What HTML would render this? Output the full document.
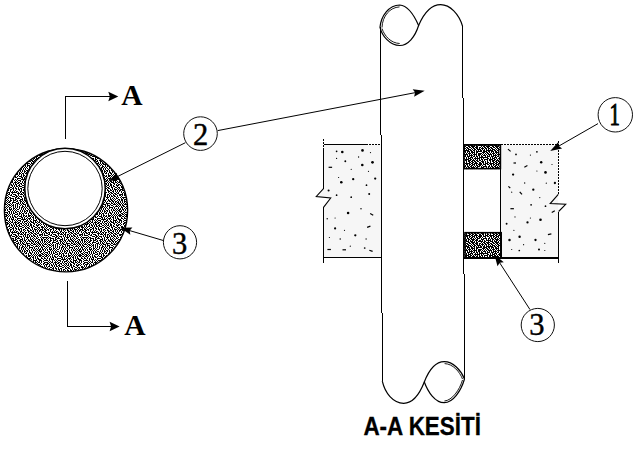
<!DOCTYPE html>
<html><head><meta charset="utf-8"><style>
html,body{margin:0;padding:0;background:#fff;}
body{width:640px;height:451px;overflow:hidden;font-family:"Liberation Sans",sans-serif;}
svg{display:block;}
</style></head><body>
<svg width="640" height="451" viewBox="0 0 640 451">
<defs>
<pattern id="d" width="40" height="40" patternUnits="userSpaceOnUse"><path d="M1 0h2v1h-2zM4 0h1v1h-1zM6 0h1v1h-1zM8 0h1v1h-1zM10 0h2v1h-2zM13 0h3v1h-3zM17 0h1v1h-1zM19 0h2v1h-2zM22 0h1v1h-1zM24 0h2v1h-2zM28 0h2v1h-2zM31 0h2v1h-2zM34 0h1v1h-1zM37 0h1v1h-1zM39 0h1v1h-1zM0 1h1v1h-1zM2 1h1v1h-1zM4 1h2v1h-2zM7 1h1v1h-1zM9 1h2v1h-2zM13 1h1v1h-1zM16 1h2v1h-2zM20 1h2v1h-2zM23 1h1v1h-1zM25 1h1v1h-1zM27 1h1v1h-1zM29 1h2v1h-2zM32 1h2v1h-2zM35 1h2v1h-2zM38 1h1v1h-1zM0 2h1v1h-1zM2 2h1v1h-1zM4 2h1v1h-1zM6 2h1v1h-1zM8 2h2v1h-2zM12 2h4v1h-4zM18 2h1v1h-1zM20 2h1v1h-1zM22 2h1v1h-1zM24 2h1v1h-1zM26 2h1v1h-1zM31 2h1v1h-1zM33 2h1v1h-1zM35 2h1v1h-1zM37 2h2v1h-2zM1 3h1v1h-1zM3 3h1v1h-1zM5 3h1v1h-1zM7 3h1v1h-1zM10 3h1v1h-1zM12 3h1v1h-1zM16 3h3v1h-3zM20 3h1v1h-1zM22 3h2v1h-2zM26 3h4v1h-4zM31 3h2v1h-2zM34 3h1v1h-1zM36 3h1v1h-1zM38 3h2v1h-2zM0 4h1v1h-1zM2 4h1v1h-1zM4 4h3v1h-3zM8 4h2v1h-2zM11 4h1v1h-1zM13 4h1v1h-1zM15 4h1v1h-1zM17 4h1v1h-1zM19 4h1v1h-1zM21 4h1v1h-1zM23 4h3v1h-3zM27 4h1v1h-1zM30 4h1v1h-1zM33 4h3v1h-3zM37 4h1v1h-1zM39 4h1v1h-1zM0 5h1v1h-1zM2 5h2v1h-2zM7 5h1v1h-1zM9 5h2v1h-2zM12 5h2v1h-2zM15 5h1v1h-1zM17 5h1v1h-1zM20 5h1v1h-1zM22 5h1v1h-1zM25 5h1v1h-1zM27 5h3v1h-3zM31 5h2v1h-2zM36 5h1v1h-1zM38 5h1v1h-1zM1 6h1v1h-1zM3 6h2v1h-2zM6 6h1v1h-1zM8 6h1v1h-1zM11 6h1v1h-1zM13 6h1v1h-1zM15 6h1v1h-1zM17 6h1v1h-1zM19 6h1v1h-1zM22 6h2v1h-2zM25 6h1v1h-1zM27 6h1v1h-1zM29 6h1v1h-1zM33 6h1v1h-1zM35 6h3v1h-3zM39 6h1v1h-1zM1 7h2v1h-2zM5 7h1v1h-1zM7 7h1v1h-1zM9 7h2v1h-2zM13 7h1v1h-1zM15 7h1v1h-1zM17 7h1v1h-1zM19 7h1v1h-1zM21 7h2v1h-2zM24 7h1v1h-1zM26 7h1v1h-1zM29 7h4v1h-4zM34 7h1v1h-1zM38 7h1v1h-1zM0 8h1v1h-1zM2 8h1v1h-1zM4 8h1v1h-1zM6 8h1v1h-1zM9 8h1v1h-1zM11 8h1v1h-1zM13 8h2v1h-2zM16 8h1v1h-1zM19 8h1v1h-1zM21 8h1v1h-1zM23 8h1v1h-1zM25 8h1v1h-1zM27 8h1v1h-1zM29 8h1v1h-1zM32 8h1v1h-1zM34 8h1v1h-1zM36 8h1v1h-1zM38 8h1v1h-1zM0 9h1v1h-1zM2 9h2v1h-2zM5 9h1v1h-1zM7 9h1v1h-1zM9 9h3v1h-3zM13 9h1v1h-1zM15 9h1v1h-1zM17 9h2v1h-2zM21 9h1v1h-1zM23 9h1v1h-1zM25 9h1v1h-1zM28 9h1v1h-1zM31 9h1v1h-1zM33 9h1v1h-1zM35 9h1v1h-1zM37 9h1v1h-1zM39 9h1v1h-1zM1 10h1v1h-1zM3 10h1v1h-1zM5 10h1v1h-1zM7 10h1v1h-1zM10 10h1v1h-1zM12 10h1v1h-1zM14 10h1v1h-1zM16 10h1v1h-1zM20 10h1v1h-1zM22 10h1v1h-1zM24 10h1v1h-1zM26 10h2v1h-2zM29 10h1v1h-1zM31 10h1v1h-1zM33 10h2v1h-2zM36 10h1v1h-1zM38 10h2v1h-2zM0 11h2v1h-2zM4 11h1v1h-1zM8 11h2v1h-2zM11 11h1v1h-1zM13 11h1v1h-1zM15 11h1v1h-1zM17 11h2v1h-2zM20 11h1v1h-1zM22 11h1v1h-1zM24 11h2v1h-2zM27 11h1v1h-1zM29 11h1v1h-1zM32 11h1v1h-1zM35 11h1v1h-1zM37 11h1v1h-1zM39 11h1v1h-1zM0 12h1v1h-1zM3 12h1v1h-1zM5 12h3v1h-3zM9 12h1v1h-1zM11 12h1v1h-1zM13 12h1v1h-1zM15 12h2v1h-2zM19 12h1v1h-1zM21 12h1v1h-1zM24 12h1v1h-1zM26 12h1v1h-1zM29 12h2v1h-2zM32 12h1v1h-1zM34 12h1v1h-1zM36 12h1v1h-1zM38 12h1v1h-1zM1 13h2v1h-2zM4 13h1v1h-1zM7 13h1v1h-1zM9 13h1v1h-1zM11 13h1v1h-1zM13 13h2v1h-2zM17 13h1v1h-1zM19 13h2v1h-2zM22 13h2v1h-2zM25 13h2v1h-2zM28 13h1v1h-1zM30 13h2v1h-2zM34 13h1v1h-1zM36 13h1v1h-1zM38 13h1v1h-1zM0 14h1v1h-1zM2 14h2v1h-2zM5 14h2v1h-2zM8 14h1v1h-1zM10 14h1v1h-1zM12 14h1v1h-1zM15 14h3v1h-3zM19 14h1v1h-1zM21 14h1v1h-1zM23 14h1v1h-1zM28 14h1v1h-1zM31 14h1v1h-1zM33 14h1v1h-1zM35 14h1v1h-1zM37 14h1v1h-1zM39 14h1v1h-1zM0 15h2v1h-2zM4 15h1v1h-1zM6 15h2v1h-2zM9 15h1v1h-1zM12 15h1v1h-1zM14 15h1v1h-1zM18 15h1v1h-1zM21 15h1v1h-1zM23 15h2v1h-2zM26 15h1v1h-1zM28 15h3v1h-3zM32 15h1v1h-1zM34 15h1v1h-1zM36 15h1v1h-1zM38 15h2v1h-2zM0 16h1v1h-1zM2 16h2v1h-2zM5 16h2v1h-2zM8 16h1v1h-1zM10 16h1v1h-1zM12 16h1v1h-1zM14 16h2v1h-2zM17 16h1v1h-1zM19 16h3v1h-3zM23 16h1v1h-1zM25 16h2v1h-2zM28 16h2v1h-2zM31 16h1v1h-1zM33 16h1v1h-1zM35 16h1v1h-1zM37 16h1v1h-1zM39 16h1v1h-1zM1 17h1v1h-1zM4 17h1v1h-1zM7 17h1v1h-1zM10 17h1v1h-1zM12 17h2v1h-2zM15 17h2v1h-2zM21 17h2v1h-2zM24 17h1v1h-1zM27 17h1v1h-1zM30 17h1v1h-1zM32 17h2v1h-2zM35 17h1v1h-1zM37 17h1v1h-1zM1 18h2v1h-2zM4 18h2v1h-2zM7 18h1v1h-1zM9 18h1v1h-1zM11 18h1v1h-1zM13 18h1v1h-1zM17 18h4v1h-4zM22 18h1v1h-1zM24 18h1v1h-1zM26 18h1v1h-1zM28 18h3v1h-3zM33 18h1v1h-1zM35 18h1v1h-1zM37 18h2v1h-2zM0 19h1v1h-1zM3 19h1v1h-1zM6 19h1v1h-1zM9 19h1v1h-1zM11 19h3v1h-3zM15 19h1v1h-1zM17 19h1v1h-1zM21 19h5v1h-5zM27 19h1v1h-1zM29 19h1v1h-1zM31 19h1v1h-1zM33 19h1v1h-1zM36 19h1v1h-1zM38 19h2v1h-2zM0 20h2v1h-2zM4 20h4v1h-4zM9 20h1v1h-1zM12 20h1v1h-1zM14 20h1v1h-1zM16 20h1v1h-1zM18 20h3v1h-3zM23 20h1v1h-1zM26 20h2v1h-2zM30 20h1v1h-1zM33 20h4v1h-4zM39 20h1v1h-1zM1 21h1v1h-1zM3 21h1v1h-1zM8 21h1v1h-1zM10 21h1v1h-1zM12 21h1v1h-1zM15 21h1v1h-1zM17 21h1v1h-1zM20 21h1v1h-1zM22 21h1v1h-1zM24 21h3v1h-3zM28 21h1v1h-1zM30 21h2v1h-2zM33 21h1v1h-1zM35 21h1v1h-1zM37 21h1v1h-1zM39 21h1v1h-1zM1 22h1v1h-1zM4 22h4v1h-4zM9 22h1v1h-1zM11 22h2v1h-2zM14 22h3v1h-3zM18 22h2v1h-2zM22 22h1v1h-1zM24 22h1v1h-1zM27 22h1v1h-1zM29 22h1v1h-1zM31 22h3v1h-3zM35 22h2v1h-2zM38 22h2v1h-2zM0 23h1v1h-1zM3 23h2v1h-2zM7 23h2v1h-2zM10 23h1v1h-1zM13 23h1v1h-1zM15 23h1v1h-1zM17 23h2v1h-2zM20 23h2v1h-2zM23 23h1v1h-1zM25 23h2v1h-2zM28 23h1v1h-1zM30 23h1v1h-1zM33 23h2v1h-2zM37 23h1v1h-1zM1 24h1v1h-1zM3 24h1v1h-1zM5 24h3v1h-3zM9 24h1v1h-1zM11 24h1v1h-1zM13 24h1v1h-1zM15 24h2v1h-2zM19 24h1v1h-1zM21 24h1v1h-1zM24 24h1v1h-1zM26 24h1v1h-1zM28 24h1v1h-1zM30 24h2v1h-2zM34 24h1v1h-1zM36 24h1v1h-1zM38 24h2v1h-2zM0 25h1v1h-1zM4 25h1v1h-1zM6 25h1v1h-1zM9 25h1v1h-1zM11 25h2v1h-2zM14 25h1v1h-1zM16 25h1v1h-1zM18 25h2v1h-2zM22 25h2v1h-2zM25 25h1v1h-1zM27 25h2v1h-2zM30 25h2v1h-2zM33 25h1v1h-1zM36 25h3v1h-3zM1 26h2v1h-2zM4 26h1v1h-1zM6 26h1v1h-1zM8 26h2v1h-2zM12 26h1v1h-1zM14 26h1v1h-1zM16 26h2v1h-2zM19 26h3v1h-3zM24 26h1v1h-1zM26 26h1v1h-1zM29 26h1v1h-1zM31 26h1v1h-1zM33 26h2v1h-2zM37 26h1v1h-1zM1 27h3v1h-3zM5 27h1v1h-1zM7 27h1v1h-1zM10 27h2v1h-2zM13 27h1v1h-1zM15 27h1v1h-1zM18 27h1v1h-1zM22 27h2v1h-2zM25 27h1v1h-1zM27 27h2v1h-2zM31 27h2v1h-2zM35 27h2v1h-2zM38 27h2v1h-2zM2 28h1v1h-1zM4 28h1v1h-1zM6 28h1v1h-1zM9 28h1v1h-1zM12 28h2v1h-2zM15 28h2v1h-2zM18 28h1v1h-1zM20 28h2v1h-2zM25 28h2v1h-2zM28 28h2v1h-2zM32 28h1v1h-1zM34 28h1v1h-1zM37 28h1v1h-1zM39 28h1v1h-1zM0 29h3v1h-3zM4 29h2v1h-2zM7 29h2v1h-2zM10 29h2v1h-2zM13 29h1v1h-1zM16 29h1v1h-1zM18 29h2v1h-2zM21 29h1v1h-1zM23 29h2v1h-2zM27 29h1v1h-1zM30 29h1v1h-1zM32 29h1v1h-1zM34 29h3v1h-3zM38 29h1v1h-1zM0 30h1v1h-1zM2 30h2v1h-2zM5 30h2v1h-2zM8 30h1v1h-1zM10 30h1v1h-1zM13 30h1v1h-1zM15 30h1v1h-1zM19 30h1v1h-1zM21 30h1v1h-1zM23 30h1v1h-1zM25 30h1v1h-1zM27 30h2v1h-2zM30 30h2v1h-2zM33 30h1v1h-1zM35 30h1v1h-1zM37 30h1v1h-1zM39 30h1v1h-1zM1 31h1v1h-1zM4 31h2v1h-2zM10 31h1v1h-1zM12 31h1v1h-1zM14 31h1v1h-1zM16 31h2v1h-2zM20 31h2v1h-2zM24 31h1v1h-1zM28 31h2v1h-2zM32 31h2v1h-2zM35 31h1v1h-1zM37 31h1v1h-1zM39 31h1v1h-1zM1 32h1v1h-1zM3 32h1v1h-1zM5 32h2v1h-2zM8 32h2v1h-2zM11 32h6v1h-6zM18 32h1v1h-1zM20 32h1v1h-1zM22 32h2v1h-2zM25 32h2v1h-2zM28 32h1v1h-1zM30 32h2v1h-2zM33 32h1v1h-1zM36 32h1v1h-1zM38 32h1v1h-1zM2 33h1v1h-1zM4 33h1v1h-1zM6 33h2v1h-2zM9 33h1v1h-1zM12 33h1v1h-1zM17 33h3v1h-3zM21 33h1v1h-1zM23 33h1v1h-1zM25 33h1v1h-1zM29 33h1v1h-1zM31 33h2v1h-2zM34 33h2v1h-2zM37 33h2v1h-2zM0 34h3v1h-3zM4 34h1v1h-1zM8 34h2v1h-2zM11 34h1v1h-1zM13 34h3v1h-3zM18 34h1v1h-1zM20 34h3v1h-3zM24 34h2v1h-2zM27 34h2v1h-2zM30 34h1v1h-1zM33 34h1v1h-1zM35 34h2v1h-2zM39 34h1v1h-1zM0 35h1v1h-1zM2 35h1v1h-1zM4 35h4v1h-4zM10 35h2v1h-2zM15 35h2v1h-2zM18 35h1v1h-1zM23 35h1v1h-1zM25 35h1v1h-1zM27 35h1v1h-1zM29 35h1v1h-1zM31 35h1v1h-1zM33 35h2v1h-2zM37 35h1v1h-1zM39 35h1v1h-1zM1 36h1v1h-1zM8 36h1v1h-1zM12 36h3v1h-3zM16 36h2v1h-2zM19 36h3v1h-3zM23 36h1v1h-1zM25 36h1v1h-1zM27 36h1v1h-1zM29 36h1v1h-1zM31 36h2v1h-2zM34 36h2v1h-2zM37 36h1v1h-1zM0 37h1v1h-1zM2 37h6v1h-6zM9 37h2v1h-2zM15 37h2v1h-2zM18 37h1v1h-1zM21 37h1v1h-1zM24 37h1v1h-1zM26 37h3v1h-3zM30 37h1v1h-1zM33 37h1v1h-1zM36 37h1v1h-1zM38 37h1v1h-1zM1 38h1v1h-1zM3 38h1v1h-1zM6 38h1v1h-1zM8 38h1v1h-1zM10 38h4v1h-4zM15 38h1v1h-1zM17 38h3v1h-3zM22 38h1v1h-1zM24 38h1v1h-1zM27 38h1v1h-1zM30 38h1v1h-1zM32 38h1v1h-1zM34 38h1v1h-1zM36 38h2v1h-2zM1 39h2v1h-2zM4 39h2v1h-2zM7 39h1v1h-1zM10 39h1v1h-1zM13 39h1v1h-1zM15 39h2v1h-2zM20 39h3v1h-3zM24 39h1v1h-1zM26 39h1v1h-1zM28 39h1v1h-1zM30 39h2v1h-2zM33 39h1v1h-1zM35 39h1v1h-1zM38 39h2v1h-2z" fill="#000" shape-rendering="crispEdges"/></pattern>
<pattern id="e" width="24" height="24" patternUnits="userSpaceOnUse"><path d="M0 0h1v1h-1zM2 0h1v1h-1zM4 0h1v1h-1zM6 0h5v1h-5zM12 0h1v1h-1zM14 0h1v1h-1zM16 0h2v1h-2zM19 0h3v1h-3zM23 0h1v1h-1zM0 1h3v1h-3zM4 1h2v1h-2zM8 1h1v1h-1zM10 1h3v1h-3zM14 1h3v1h-3zM18 1h1v1h-1zM20 1h1v1h-1zM22 1h2v1h-2zM1 2h1v1h-1zM3 2h2v1h-2zM6 2h4v1h-4zM12 2h2v1h-2zM15 2h4v1h-4zM20 2h2v1h-2zM0 3h1v1h-1zM2 3h1v1h-1zM4 3h2v1h-2zM7 3h2v1h-2zM10 3h2v1h-2zM13 3h2v1h-2zM16 3h2v1h-2zM19 3h3v1h-3zM23 3h1v1h-1zM1 4h3v1h-3zM5 4h2v1h-2zM8 4h2v1h-2zM11 4h2v1h-2zM15 4h1v1h-1zM17 4h2v1h-2zM20 4h2v1h-2zM23 4h1v1h-1zM0 5h1v1h-1zM2 5h1v1h-1zM4 5h1v1h-1zM6 5h1v1h-1zM8 5h1v1h-1zM10 5h1v1h-1zM12 5h3v1h-3zM16 5h1v1h-1zM18 5h2v1h-2zM21 5h3v1h-3zM0 6h2v1h-2zM3 6h2v1h-2zM6 6h7v1h-7zM14 6h2v1h-2zM17 6h2v1h-2zM20 6h1v1h-1zM22 6h1v1h-1zM0 7h2v1h-2zM3 7h4v1h-4zM8 7h2v1h-2zM11 7h3v1h-3zM15 7h2v1h-2zM18 7h1v1h-1zM20 7h4v1h-4zM2 8h3v1h-3zM6 8h2v1h-2zM9 8h1v1h-1zM11 8h1v1h-1zM13 8h1v1h-1zM15 8h4v1h-4zM20 8h2v1h-2zM0 9h2v1h-2zM3 9h1v1h-1zM5 9h1v1h-1zM7 9h2v1h-2zM10 9h1v1h-1zM12 9h3v1h-3zM16 9h1v1h-1zM18 9h1v1h-1zM20 9h1v1h-1zM22 9h2v1h-2zM0 10h1v1h-1zM2 10h1v1h-1zM4 10h1v1h-1zM6 10h1v1h-1zM8 10h4v1h-4zM13 10h1v1h-1zM15 10h1v1h-1zM17 10h4v1h-4zM22 10h2v1h-2zM1 11h1v1h-1zM3 11h3v1h-3zM7 11h1v1h-1zM9 11h1v1h-1zM11 11h1v1h-1zM13 11h4v1h-4zM18 11h1v1h-1zM20 11h1v1h-1zM22 11h2v1h-2zM1 12h2v1h-2zM5 12h1v1h-1zM7 12h3v1h-3zM11 12h3v1h-3zM15 12h1v1h-1zM17 12h2v1h-2zM20 12h2v1h-2zM23 12h1v1h-1zM0 13h8v1h-8zM10 13h1v1h-1zM12 13h1v1h-1zM14 13h3v1h-3zM19 13h1v1h-1zM21 13h1v1h-1zM23 13h1v1h-1zM1 14h1v1h-1zM3 14h1v1h-1zM7 14h2v1h-2zM10 14h1v1h-1zM12 14h3v1h-3zM16 14h1v1h-1zM18 14h6v1h-6zM1 15h2v1h-2zM4 15h4v1h-4zM9 15h4v1h-4zM14 15h2v1h-2zM17 15h1v1h-1zM19 15h1v1h-1zM21 15h1v1h-1zM23 15h1v1h-1zM0 16h1v1h-1zM2 16h1v1h-1zM4 16h1v1h-1zM7 16h1v1h-1zM9 16h2v1h-2zM12 16h3v1h-3zM16 16h3v1h-3zM20 16h2v1h-2zM23 16h1v1h-1zM1 17h3v1h-3zM5 17h1v1h-1zM7 17h1v1h-1zM10 17h1v1h-1zM12 17h2v1h-2zM15 17h2v1h-2zM18 17h2v1h-2zM21 17h2v1h-2zM0 18h1v1h-1zM2 18h2v1h-2zM5 18h1v1h-1zM7 18h2v1h-2zM10 18h1v1h-1zM13 18h2v1h-2zM16 18h2v1h-2zM19 18h2v1h-2zM23 18h1v1h-1zM0 19h2v1h-2zM3 19h1v1h-1zM5 19h3v1h-3zM9 19h5v1h-5zM15 19h2v1h-2zM18 19h4v1h-4zM23 19h1v1h-1zM0 20h2v1h-2zM3 20h3v1h-3zM7 20h2v1h-2zM10 20h2v1h-2zM13 20h2v1h-2zM16 20h3v1h-3zM20 20h1v1h-1zM22 20h2v1h-2zM0 21h1v1h-1zM2 21h1v1h-1zM5 21h1v1h-1zM9 21h1v1h-1zM11 21h1v1h-1zM13 21h1v1h-1zM15 21h2v1h-2zM18 21h1v1h-1zM20 21h2v1h-2zM23 21h1v1h-1zM1 22h1v1h-1zM3 22h4v1h-4zM8 22h2v1h-2zM11 22h2v1h-2zM14 22h2v1h-2zM17 22h1v1h-1zM19 22h1v1h-1zM21 22h3v1h-3zM1 23h3v1h-3zM6 23h1v1h-1zM8 23h1v1h-1zM10 23h1v1h-1zM12 23h2v1h-2zM15 23h4v1h-4zM20 23h2v1h-2z" fill="#000" shape-rendering="crispEdges"/></pattern>
</defs>
<rect width="640" height="451" fill="#fff"/>

<!-- LEFT: cross-section circle -->
<circle cx="66" cy="210.3" r="61.6" fill="url(#d)" stroke="#000" stroke-width="1.4"/>
<circle cx="65" cy="188.5" r="40.3" fill="#fff" stroke="#000" stroke-width="1.6"/>
<circle cx="65" cy="188.5" r="37.2" fill="none" stroke="#000" stroke-width="1"/>

<g stroke="#000" stroke-width="1" fill="none" shape-rendering="crispEdges">
<path d="M65.5,138.6V96.5H112"/>
<path d="M67.5,281V326.5H113"/>
</g>
<path d="M118.3,96.5L108.3,101.3L109.8,96.5L108.3,91.7Z" fill="#000"/>
<path d="M119.6,326.5L109.6,331.3L111.1,326.5L109.6,321.7Z" fill="#000"/>
<text x="121.3" y="104.5" font-family="Liberation Serif" font-weight="bold" font-size="29.5">A</text>
<text x="124.3" y="334.7" font-family="Liberation Serif" font-weight="bold" font-size="29.5">A</text>

<!-- balloons -->
<g fill="none" stroke="#111" stroke-width="1">
<circle cx="200.5" cy="133.6" r="16.8"/>
<circle cx="180" cy="242.3" r="16.6"/>
<circle cx="615.3" cy="114.8" r="17.2"/>
<circle cx="537.8" cy="325" r="16.6"/>
</g>
<g font-family="Liberation Serif" font-size="30.5" text-anchor="middle" stroke="#000" stroke-width="0.45">
<text x="200.5" y="145">2</text>
<text x="179.5" y="254">3</text>
<text transform="translate(614.6,125) scale(0.68,1)" stroke-width="1">1</text>
<text x="536.9" y="335">3</text>
</g>

<!-- walls -->
<path d="M323.5,144.4H380.6L381.5,257.3H323.5V207.3L330.7,198L316.3,196.5L323.5,188.7Z" fill="#f6f6f6"/>
<rect x="500.5" y="144.6" width="57.6" height="112.8" fill="#f6f6f6"/>
<g fill="#000"><circle cx="336.6" cy="151.3" r="0.86"/><circle cx="342.3" cy="152" r="1.30"/><circle cx="362.5" cy="150.4" r="1.30"/><circle cx="370.5" cy="152.6" r="0.60"/><circle cx="358.6" cy="157" r="0.65"/><circle cx="336.6" cy="158.4" r="0.60"/><circle cx="345.3" cy="161.3" r="0.94"/><circle cx="372.5" cy="162.3" r="1.37"/><circle cx="362.3" cy="165" r="1.30"/><circle cx="351.2" cy="169.3" r="0.60"/><circle cx="368.5" cy="171.3" r="0.60"/><circle cx="338.6" cy="177.5" r="0.60"/><circle cx="353.2" cy="179.2" r="1.15"/><circle cx="375.2" cy="178.6" r="1.15"/><circle cx="341.3" cy="182.3" r="1.30"/><circle cx="366.5" cy="185.2" r="0.86"/><circle cx="328.6" cy="190.5" r="1.01"/><circle cx="369.2" cy="193.9" r="1.01"/><circle cx="336.6" cy="195.2" r="0.86"/><circle cx="351.2" cy="197.2" r="0.86"/><circle cx="361" cy="208.7" r="0.72"/><circle cx="348.1" cy="213" r="1.30"/><circle cx="327.2" cy="218.8" r="0.72"/><circle cx="335.1" cy="218" r="0.60"/><circle cx="335.1" cy="228.4" r="1.08"/><circle cx="344.5" cy="230.3" r="0.60"/><circle cx="355.3" cy="235.3" r="1.15"/><circle cx="329.4" cy="237.5" r="0.60"/><circle cx="340.2" cy="239" r="0.72"/><circle cx="366.1" cy="239" r="0.65"/><circle cx="350.3" cy="246.2" r="0.60"/><circle cx="364.7" cy="248" r="0.86"/><rect x="328.6" y="166.7" width="3.5" height="1.2" transform="rotate(0 330.6 167.3)"/><rect x="369.9" y="213.9" width="3.5" height="1.2" transform="rotate(30 371.9 214.5)"/><rect x="367.0" y="226.1" width="3.5" height="1.2" transform="rotate(-20 369 226.7)"/><rect x="327.4" y="248.9" width="3.5" height="1.2" transform="rotate(0 329.4 249.5)"/><rect x="342.5" y="249.2" width="3.5" height="1.2" transform="rotate(0 344.5 249.8)"/><rect x="369.2" y="250.3" width="3.5" height="1.2" transform="rotate(20 371.2 250.9)"/><circle cx="516" cy="154.4" r="0.86"/><circle cx="536.9" cy="151.8" r="0.86"/><circle cx="530.4" cy="155.1" r="0.60"/><circle cx="541.2" cy="162.3" r="1.22"/><circle cx="552" cy="164.5" r="0.60"/><circle cx="545.5" cy="172.4" r="1.30"/><circle cx="536.9" cy="171" r="0.60"/><circle cx="513.1" cy="174.6" r="1.15"/><circle cx="554.9" cy="183" r="1.15"/><circle cx="524.7" cy="183" r="0.65"/><circle cx="546.3" cy="183.2" r="0.60"/><circle cx="533.3" cy="189.7" r="1.15"/><circle cx="511.7" cy="192.2" r="0.60"/><circle cx="539.8" cy="197.6" r="0.60"/><circle cx="531.1" cy="204.8" r="0.86"/><circle cx="545.5" cy="206.2" r="0.86"/><circle cx="515" cy="216.9" r="0.60"/><circle cx="540.5" cy="219.8" r="1.30"/><circle cx="527.5" cy="222.4" r="1.15"/><circle cx="506.6" cy="223.8" r="0.94"/><circle cx="530.4" cy="218" r="0.60"/><circle cx="513.9" cy="230.3" r="0.60"/><circle cx="519.6" cy="236.8" r="1.22"/><circle cx="509.5" cy="240" r="1.22"/><circle cx="535.5" cy="240" r="1.15"/><circle cx="523.6" cy="244.7" r="0.60"/><circle cx="544.8" cy="243.3" r="0.60"/><circle cx="511.7" cy="249.5" r="0.60"/><circle cx="519.3" cy="250.5" r="0.86"/><circle cx="539" cy="249.5" r="1.01"/><circle cx="544.8" cy="250.5" r="0.60"/><rect x="507.5" y="149.8" width="3.5" height="1.2" transform="rotate(40 509.5 150.4)"/><rect x="513.5" y="162.4" width="2.5" height="1.2" transform="rotate(0 515 163)"/><rect x="524.1" y="165.6" width="3.5" height="1.2" transform="rotate(-30 526.1 166.2)"/><rect x="508.0" y="186.7" width="2.5" height="1.2" transform="rotate(40 509.5 187.3)"/><rect x="519.0" y="192.7" width="3.5" height="1.2" transform="rotate(50 521 193.3)"/><rect x="510.4" y="208.1" width="3.5" height="1.2" transform="rotate(0 512.4 208.7)"/><rect x="551.5" y="211.0" width="3.5" height="1.2" transform="rotate(-30 553.5 211.6)"/><rect x="547.9" y="233.6" width="3.5" height="1.2" transform="rotate(-10 549.9 234.2)"/></g>
<rect x="463.3" y="144.3" width="37.4" height="24.8" fill="url(#e)"/>
<rect x="464.3" y="232" width="37.2" height="26.4" fill="url(#e)"/>
<g stroke="#000" stroke-width="1" fill="none" shape-rendering="crispEdges">
<path d="M323.5,138.7V150" stroke-dasharray="2 1"/>
<path d="M323.5,150V188.7"/>
<path d="M323.5,207.3V262.5"/>
<path d="M323.5,144.5H366"/>
<path d="M366,144.5H380.6" stroke-dasharray="2 1"/>
<path d="M323.5,257.5H381.5" stroke-width="1.6"/>
<path d="M558.5,141V194.3" stroke-dasharray="2 1"/>
<path d="M558.5,211.5V262.5"/>
<path d="M463.3,144.5H500.5"/>
<path d="M500.5,144.5H558.1" stroke-dasharray="2 1"/>
<path d="M464.3,257.8H558.3" stroke-width="1.8"/>
<path d="M500.5,144.3V258"/>
</g>
<g stroke="#000" stroke-width="1.1" fill="none">
<path d="M323.5,188.7L316.3,196.5L330.7,198L323.5,207.3"/>
<path d="M558.3,194.3L550.2,203.6L565.7,204.3L558.6,211.5"/>
</g>
<g stroke="#000" stroke-width="1.6" fill="none">
<rect x="464" y="145" width="36.4" height="23.6"/>
<rect x="465" y="232.7" width="36.2" height="25.2"/>
</g>

<!-- pipe -->
<g stroke="#000" stroke-width="1" fill="none" shape-rendering="crispEdges">
<path d="M380.4,27.3L382.4,381.2"/>
<path d="M462.6,26.3L464.6,379"/>
</g>
<g stroke="#000" stroke-width="1.2" fill="none">
<path d="M380,27.3C381,16 389,5 399.7,5C407,5.5 414,15 418.6,25.5C415,37 408,45.5 399.7,45.5C390,45.5 382,36 380,27.3Z"/>
<path d="M382,27.5C382.4,16 390,7.3 399.5,6.9M382,28.5C384.4,36 391,43.2 399.7,43.5" stroke-width="0.9"/>
<path d="M418.6,25.5C424,13 432,4.7 440.7,4.7C450,4.7 459,14 462.6,26.3"/>
<path d="M382.3,381.2C385,393 393,403.3 403.7,403.3C413,403.3 420,393 424.3,382"/>
<path d="M424.3,382C429,370 436,361.7 444.2,361.7C453,361.7 461,370 464.5,379C461,391 453,402.7 444.2,402.7C435,402.7 428,392 424.3,382Z"/>
<path d="M444.6,363.6C453,363.8 459.8,372 462.5,379M462.5,380C459.6,390 452,400.5 444.4,401" stroke-width="0.9"/>
</g>

<!-- leaders -->
<g stroke="#000" stroke-width="1" fill="none">
<path d="M185.4,142.7L114,178.3"/>
<path d="M217.7,130.6L417,92.3"/>
<path d="M163.3,240.5L127,229.8"/>
<path d="M598,123.6L556.5,147.4"/>
<path d="M530,309.6L498.5,261"/>
</g>
<path d="M108.3,181.2L116.9,172.7L117.0,176.8L120.3,179.5Z" fill="#000"/>
<path d="M424.7,90.8L414.1,96.7L415.1,92.6L412.7,89.2Z" fill="#000"/>
<path d="M120.3,227.8L132.4,227.4L129.7,230.6L130.3,234.7Z" fill="#000"/>
<path d="M550.2,151.0L558.3,142.0L558.7,146.1L562.1,148.6Z" fill="#000"/>
<path d="M494.4,254.6L503.8,262.2L499.7,262.8L497.5,266.3Z" fill="#000"/>

<text transform="translate(363.4,434.8) scale(0.89,1)" font-family="Liberation Sans" font-weight="bold" font-size="25.2" stroke="#000" stroke-width="0.3">A-A KESİTİ</text>
</svg>
</body></html>
